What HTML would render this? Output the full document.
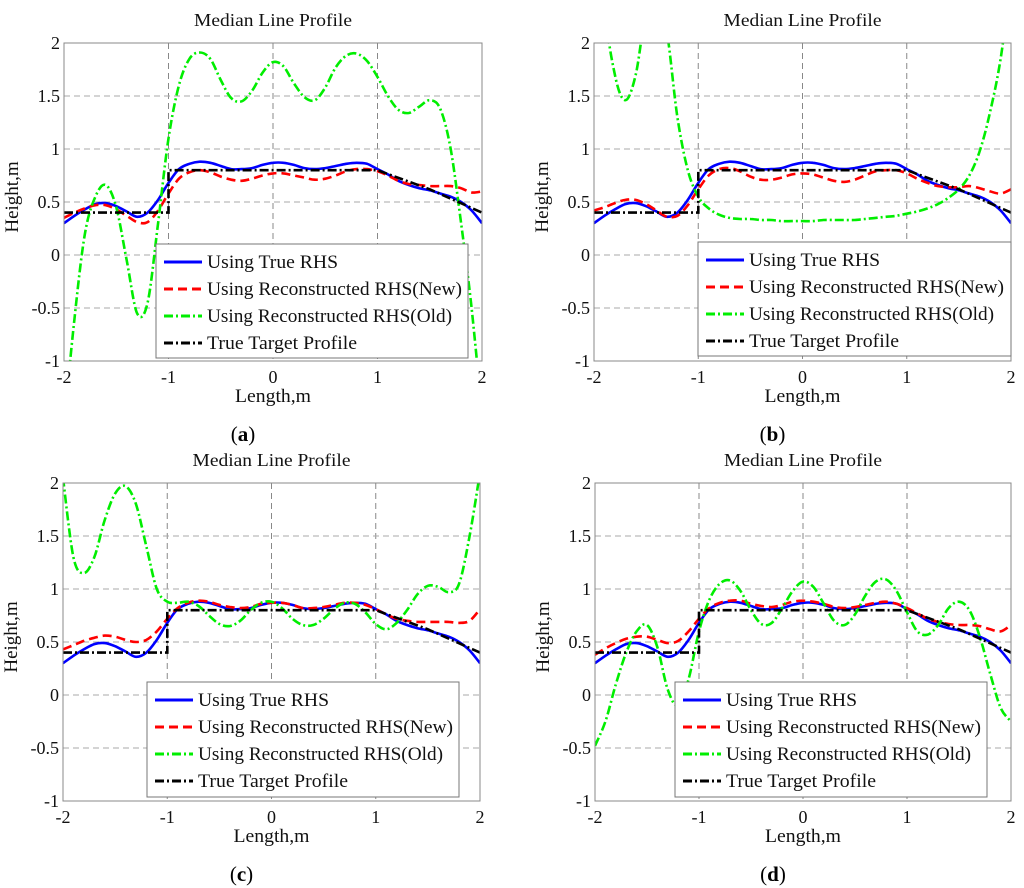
<!DOCTYPE html>
<html><head><meta charset="utf-8"><style>
body{margin:0;background:#fff;}
svg{display:block;font-family:"Liberation Serif",serif;}
</style></head><body>
<svg id="fig" width="1024" height="888" viewBox="0 0 1024 888"></svg>
<script>
const xs = [-2,-1.9,-1.8,-1.7,-1.6,-1.5,-1.4,-1.3,-1.2,-1.1,-1.0,-0.9,-0.8,-0.7,-0.6,-0.5,-0.4,-0.3,-0.2,-0.1,0,0.1,0.2,0.3,0.4,0.5,0.6,0.7,0.8,0.9,1.0,1.1,1.2,1.3,1.4,1.5,1.6,1.7,1.8,1.9,2.0];
const xTicks = [-2,-1,0,1,2];
const yTicks = [-1,-0.5,0,0.5,1,1.5,2];
const xTickLabels = ["-2","-1","0","1","2"];
const yTickLabels = ["-1","-0.5","0","0.5","1","1.5","2"];
const trueRHS = [0.3,0.37,0.43,0.48,0.49,0.46,0.41,0.36,0.40,0.52,0.68,0.81,0.86,0.88,0.87,0.84,0.81,0.81,0.82,0.85,0.87,0.87,0.85,0.82,0.81,0.82,0.84,0.86,0.87,0.86,0.81,0.76,0.70,0.66,0.63,0.61,0.58,0.55,0.50,0.42,0.30];
const targetX = [-2,-1,-1,1,1.5,2];
const targetY = [0.4,0.4,0.8,0.8,0.62,0.4];
const newA = [0.35,0.40,0.44,0.47,0.47,0.43,0.37,0.31,0.31,0.42,0.58,0.72,0.78,0.80,0.78,0.74,0.71,0.70,0.72,0.75,0.77,0.77,0.75,0.73,0.71,0.72,0.75,0.79,0.81,0.81,0.79,0.75,0.70,0.67,0.66,0.65,0.65,0.65,0.63,0.59,0.60];
const oldA = [-1.6,-0.6,0.2,0.55,0.66,0.45,-0.05,-0.55,-0.45,0.3,1.1,1.6,1.85,1.91,1.85,1.65,1.48,1.45,1.55,1.72,1.82,1.78,1.62,1.49,1.46,1.58,1.77,1.88,1.9,1.83,1.68,1.5,1.37,1.34,1.4,1.46,1.38,1.0,0.3,-0.5,-1.5];
const newB = [0.42,0.45,0.49,0.52,0.52,0.48,0.42,0.36,0.37,0.47,0.62,0.75,0.81,0.82,0.79,0.74,0.71,0.71,0.73,0.76,0.77,0.76,0.73,0.70,0.69,0.71,0.75,0.79,0.80,0.80,0.77,0.72,0.68,0.65,0.64,0.64,0.65,0.63,0.60,0.58,0.62];
const oldB = [4,2.4,1.7,1.46,1.7,2.3,2.5,2.1,1.3,0.8,0.55,0.44,0.38,0.35,0.34,0.34,0.33,0.33,0.32,0.32,0.32,0.32,0.33,0.33,0.33,0.33,0.34,0.35,0.36,0.37,0.39,0.41,0.44,0.48,0.54,0.62,0.75,0.98,1.35,1.85,2.6];
const newC = [0.43,0.47,0.51,0.54,0.56,0.55,0.52,0.5,0.52,0.6,0.72,0.82,0.87,0.89,0.88,0.85,0.83,0.82,0.83,0.86,0.87,0.87,0.85,0.82,0.82,0.83,0.85,0.87,0.87,0.85,0.81,0.76,0.72,0.7,0.69,0.69,0.69,0.69,0.68,0.7,0.81];
const oldC = [2.05,1.3,1.15,1.3,1.65,1.9,1.97,1.8,1.4,1.0,0.88,0.87,0.88,0.84,0.75,0.67,0.65,0.7,0.8,0.87,0.88,0.82,0.72,0.66,0.66,0.72,0.81,0.87,0.86,0.78,0.67,0.62,0.68,0.8,0.95,1.03,1.02,0.97,1.05,1.5,2.1];
const newD = [0.38,0.44,0.49,0.53,0.55,0.55,0.52,0.49,0.51,0.6,0.72,0.82,0.87,0.89,0.89,0.86,0.84,0.83,0.85,0.88,0.89,0.88,0.86,0.83,0.82,0.83,0.85,0.87,0.88,0.86,0.82,0.77,0.72,0.69,0.67,0.66,0.66,0.65,0.62,0.6,0.66];
const oldD = [-0.48,-0.25,0.1,0.4,0.6,0.66,0.45,0.05,-0.1,0.15,0.6,0.9,1.05,1.08,0.98,0.8,0.67,0.68,0.82,0.98,1.07,1.02,0.86,0.70,0.66,0.76,0.94,1.07,1.09,0.98,0.78,0.6,0.57,0.66,0.82,0.88,0.8,0.55,0.2,-0.12,-0.25];
const legendLabels = ["Using True RHS","Using Reconstructed RHS(New)","Using Reconstructed RHS(Old)","True Target Profile"];

const panels = [
 {id:"a",l:64,r:482,t:43,b:361,newS:newA,oldS:oldA,lg:[156,244,312,114]},
 {id:"b",l:594,r:1011,t:43,b:361,newS:newB,oldS:oldB,lg:[698,242,313,114]},
 {id:"c",l:63,r:480,t:483,b:801,newS:newC,oldS:oldC,lg:[147,682,312,115]},
 {id:"d",l:595,r:1011,t:483,b:801,newS:newD,oldS:oldD,lg:[675,682,312,115]}
];
const NS="http://www.w3.org/2000/svg";
const svg=document.getElementById('fig');
function mk(tag,attrs,parent){const e=document.createElementNS(NS,tag);for(const k in attrs)e.setAttribute(k,attrs[k]);(parent||svg).appendChild(e);return e;}
function smooth(pts){let d="M"+pts[0][0].toFixed(1)+","+pts[0][1].toFixed(1);
 for(let i=0;i<pts.length-1;i++){const p0=pts[Math.max(0,i-1)],p1=pts[i],p2=pts[i+1],p3=pts[Math.min(pts.length-1,i+2)];
  const c1=[p1[0]+(p2[0]-p0[0])/6,p1[1]+(p2[1]-p0[1])/6],c2=[p2[0]-(p3[0]-p1[0])/6,p2[1]-(p3[1]-p1[1])/6];
  d+=" C"+c1[0].toFixed(1)+","+c1[1].toFixed(1)+" "+c2[0].toFixed(1)+","+c2[1].toFixed(1)+" "+p2[0].toFixed(1)+","+p2[1].toFixed(1);}
 return d;}
const styles=[
 {stroke:"#0000ff",dash:""},
 {stroke:"#ff0000",dash:"9,5"},
 {stroke:"#00ee00",dash:"9,3,2,3"},
 {stroke:"#000000",dash:"9,3,2,3"}];
const legendLens=[131,255,245,150];
panels.forEach(p=>{
 const g=mk('g',{});
 
 
 const sx=v=>p.l+(v+2)/4*(p.r-p.l);
 const sy=v=>p.b-(v+1)/3*(p.b-p.t);
 const cx=(p.l+p.r)/2;
 const clip=mk('clipPath',{id:'clip'+p.id},g);
 mk('rect',{x:p.l,y:p.t,width:p.r-p.l,height:p.b-p.t},clip);
 mk('rect',{x:p.l,y:p.t,width:p.r-p.l,height:p.b-p.t,fill:"#fff"},g);
 xTicks.forEach((v,i)=>{
  if(i>0&&i<xTicks.length-1){const gl=mk('line',{x1:sx(v),x2:sx(v),y1:p.t,y2:p.b,stroke:"#888","stroke-dasharray":"6,4","stroke-width":1},g);
   }
  const t=mk('text',{x:sx(v),y:p.b+22,"text-anchor":"middle","font-size":18,fill:"#111"},g);t.textContent=xTickLabels[i];
  
 });
 yTicks.forEach((v,i)=>{
  if(i>0&&i<yTicks.length-1){const gl=mk('line',{x1:p.l,x2:p.r,y1:sy(v),y2:sy(v),stroke:"#aaa","stroke-dasharray":"6,4","stroke-width":1},g);
   }
  const t=mk('text',{x:p.l-4,y:sy(v)+6,"text-anchor":"end","font-size":18,fill:"#111"},g);t.textContent=yTickLabels[i];
  
 });
 const lines=mk('g',{"clip-path":"url(#clip"+p.id+")",fill:"none","stroke-width":2.6},g);
 const series=[xs.map((x,i)=>[sx(x),sy(trueRHS[i])]),xs.map((x,i)=>[sx(x),sy(p.newS[i])]),xs.map((x,i)=>[sx(x),sy(p.oldS[i])])];
 const names=['true-rhs-line','new-rhs-line','old-rhs-line'];
 series.forEach((pts,k)=>{const e=mk('path',{d:smooth(pts),stroke:styles[k].stroke,"stroke-dasharray":styles[k].dash},lines);
  });
 const tpts=targetX.map((x,i)=>sx(x).toFixed(1)+","+sy(targetY[i]).toFixed(1)).join(" ");
 const tl=mk('polyline',{points:tpts,stroke:"#000","stroke-dasharray":styles[3].dash},lines);
 
 mk('rect',{x:p.l,y:p.t,width:p.r-p.l,height:p.b-p.t,fill:"none",stroke:"#888","stroke-width":1},g);
 const [lx,ly,lw,lh]=p.lg;
 const lg=mk('g',{},g);
 mk('rect',{x:lx,y:ly,width:lw,height:lh,fill:"#fff",stroke:"#777","stroke-width":1},lg);
 legendLabels.forEach((s,k)=>{const yy=ly+18+k*27;
  const ll=mk('line',{x1:lx+8,x2:lx+46,y1:yy,y2:yy,stroke:styles[k].stroke,"stroke-dasharray":styles[k].dash,"stroke-width":3},lg);
  
  const t=mk('text',{x:lx+51,y:yy+6,"font-size":19,fill:"#111",textLength:legendLens[k],lengthAdjust:"spacingAndGlyphs"},lg);t.textContent=s;
  });
 const ti=mk('text',{x:cx,y:p.t-17,"text-anchor":"middle","font-size":18,fill:"#111",textLength:158,lengthAdjust:"spacingAndGlyphs"},g);ti.textContent="Median Line Profile";
 
 const xl=mk('text',{x:cx,y:p.b+41,"text-anchor":"middle","font-size":19,fill:"#111",textLength:76,lengthAdjust:"spacingAndGlyphs"},g);xl.textContent="Length,m";
 
 const yc=(p.t+p.b)/2-5;
 const yl=mk('text',{x:p.l-46,y:yc,"text-anchor":"middle","font-size":19,fill:"#111",transform:"rotate(-90 "+(p.l-46)+" "+yc+")"},g);yl.textContent="Height,m";
 
 const cap=mk('text',{x:cx-30,y:p.b+80,"text-anchor":"middle","font-size":21,fill:"#000"},g);
 cap.innerHTML='(<tspan font-weight="bold">'+p.id+'</tspan>)';
 
});
</script>
</body></html>
